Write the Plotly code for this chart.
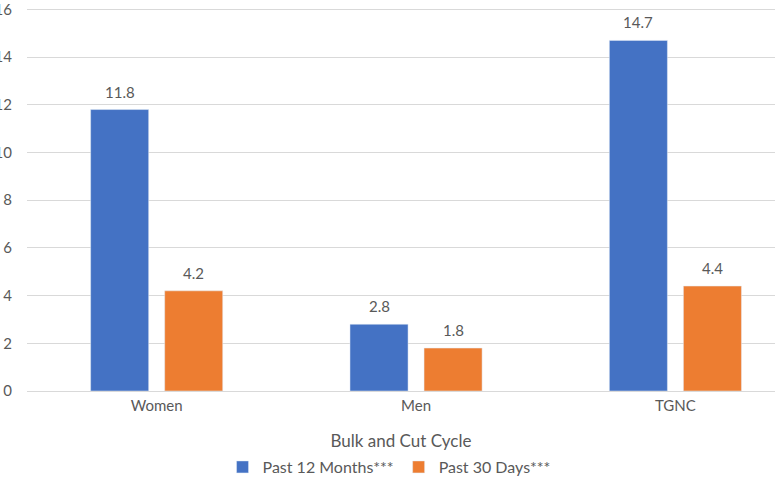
import plotly.graph_objects as go

categories = ["Women", "Men", "TGNC"]
past_12_months = [11.8, 2.8, 14.7]
past_30_days = [4.2, 1.8, 4.4]
series_names = ["Past 12 Months***", "Past 30 Days***"]
y_ticks = [0, 2, 4, 6, 8, 10, 12, 14, 16]

BLUE = "#4472C4"
ORANGE = "#ED7D31"
TEXT = "#595959"
FONT = "Lato"

fig = go.Figure()
fig.add_trace(go.Bar(x=categories, y=past_12_months, name=series_names[0],
                     marker_color=BLUE, offsetgroup="a"))
fig.add_trace(go.Bar(x=categories, y=past_30_days, name=series_names[1],
                     marker_color=ORANGE, offsetgroup="b"))

slot_px = 37
for vals, shift in ((past_12_months, -slot_px), (past_30_days, slot_px)):
    for c, v in zip(categories, vals):
        fig.add_annotation(x=c, y=v, text=f"{v:.1f}", showarrow=False,
                           xshift=shift, yshift=7, yanchor="bottom",
                           font=dict(family=FONT, size=15, color=TEXT))

fig.update_layout(
    width=775, height=480,
    margin=dict(l=27, r=0, t=7, b=89, autoexpand=False),
    paper_bgcolor="white", plot_bgcolor="white",
    barmode="group", bargap=0.429, bargroupgap=0.216,
    font=dict(family=FONT, color=TEXT, size=15),
    showlegend=True,
    legend=dict(orientation="h", x=0.484, xanchor="center", y=-0.198, yanchor="middle",
                font=dict(family=FONT, size=16, color=TEXT), itemwidth=30,
                traceorder="normal"),
    xaxis=dict(range=[-0.5, 2.384], showgrid=False, showline=False, zeroline=False,
               ticks="", tickfont=dict(size=15, color=TEXT), ticklabelstandoff=4,
               title=dict(text="Bulk and Cut Cycle", font=dict(size=17, color=TEXT), standoff=22)),
    yaxis=dict(range=[0, 16.1], tickvals=y_ticks, showgrid=True, gridcolor="#D9D9D9",
               gridwidth=1, zeroline=True, zerolinecolor="#D9D9D9", zerolinewidth=1,
               showline=False, ticks="", ticklabelstandoff=14, ticklabeloverflow="allow",
               tickfont=dict(size=15, color=TEXT), automargin=False),
)
fig.update_xaxes(automargin=False)

fig.write_html("out.html", config={"displayModeBar": False},
               post_script="document.body.style.margin='0';document.body.style.overflow='hidden';")
